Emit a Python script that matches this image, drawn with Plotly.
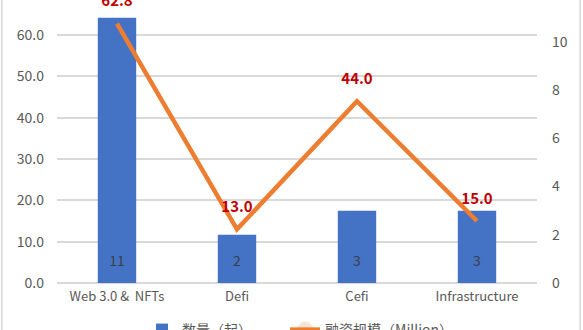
import plotly.graph_objects as go

categories = ["Web 3.0 &\u00a0 NFTs", "Defi", "Cefi", "Infrastructure"]
deal_counts = [11, 2, 3, 3]
funding_millions = [62.8, 13.0, 44.0, 15.0]
left_ticks = [0, 10, 20, 30, 40, 50, 60]
right_ticks = [0, 2, 4, 6, 8, 10]

FONT = "Noto Sans CJK SC"
GRAY = "#595959"

fig = go.Figure()
fig.add_trace(go.Bar(
    x=categories, y=deal_counts, yaxis="y", name="数量（起）",
    marker=dict(color="#4472C4", line=dict(width=0)),
    width=0.32, legend="legend",
))
# count labels sitting at the base of each bar
fig.add_trace(go.Scatter(
    x=categories, y=[0] * len(deal_counts), yaxis="y", mode="markers+text",
    text=[str(v) for v in deal_counts], textposition="top center",
    marker=dict(size=20, opacity=0), showlegend=False, hoverinfo="skip",
    textfont=dict(family=FONT, size=14, color="#3A3F4A"),
    cliponaxis=False,
))
fig.add_trace(go.Scatter(
    x=categories, y=funding_millions, yaxis="y2", name="融资规模（Million）",
    mode="lines+markers+text", legend="legend2",
    line=dict(color="#ED7D31", width=4.5),
    marker=dict(size=20, opacity=0),
    text=[f"{v:.1f}" for v in funding_millions],
    textposition="top center",
    textfont=dict(family=FONT, size=15, color="#C00000", weight="bold"),
    cliponaxis=False,
))

legend_common = dict(orientation="h", xref="container", yref="container",
                     xanchor="left", y=-0.006, yanchor="middle",
                     font=dict(size=14, color=GRAY),
                     bgcolor="rgba(0,0,0,0)")

fig.update_layout(
    width=583, height=330,
    margin=dict(l=57, r=46, t=0, b=47),
    paper_bgcolor="white", plot_bgcolor="white",
    font=dict(family=FONT, color=GRAY, size=14),
    bargap=0.68,
    xaxis=dict(showgrid=False, showline=False, ticks="",
               tickfont=dict(size=13, color=GRAY), ticklabelstandoff=4),
    yaxis=dict(range=[0, 11.74], tickvals=right_ticks, side="right",
               showgrid=False, zeroline=False, showline=False,
               tickfont=dict(size=14, color=GRAY), ticklabelstandoff=14),
    yaxis2=dict(range=[0, 68.5], tickvals=left_ticks, tickformat=".1f",
                overlaying="y", side="left",
                showgrid=True, gridcolor="#D9D9D9", gridwidth=1.5,
                zeroline=True, zerolinecolor="#D9D9D9", zerolinewidth=1.5,
                showline=False, tickfont=dict(size=14, color=GRAY),
                ticklabelstandoff=12),
    showlegend=True,
    legend=dict(x=0.2436, **legend_common),
    legend2=dict(x=0.4889, **legend_common),
    shapes=[
        dict(type="line", xref="paper", yref="paper", x0=-0.115, x1=-0.115,
             y0=-0.2, y1=1.05, line=dict(color="#D9D9D9", width=1.5)),
        dict(type="line", xref="paper", yref="paper", x0=1.09, x1=1.09,
             y0=-0.2, y1=1.05, line=dict(color="#D9D9D9", width=1.5)),
    ],
)

fig.write_html("out.html")
